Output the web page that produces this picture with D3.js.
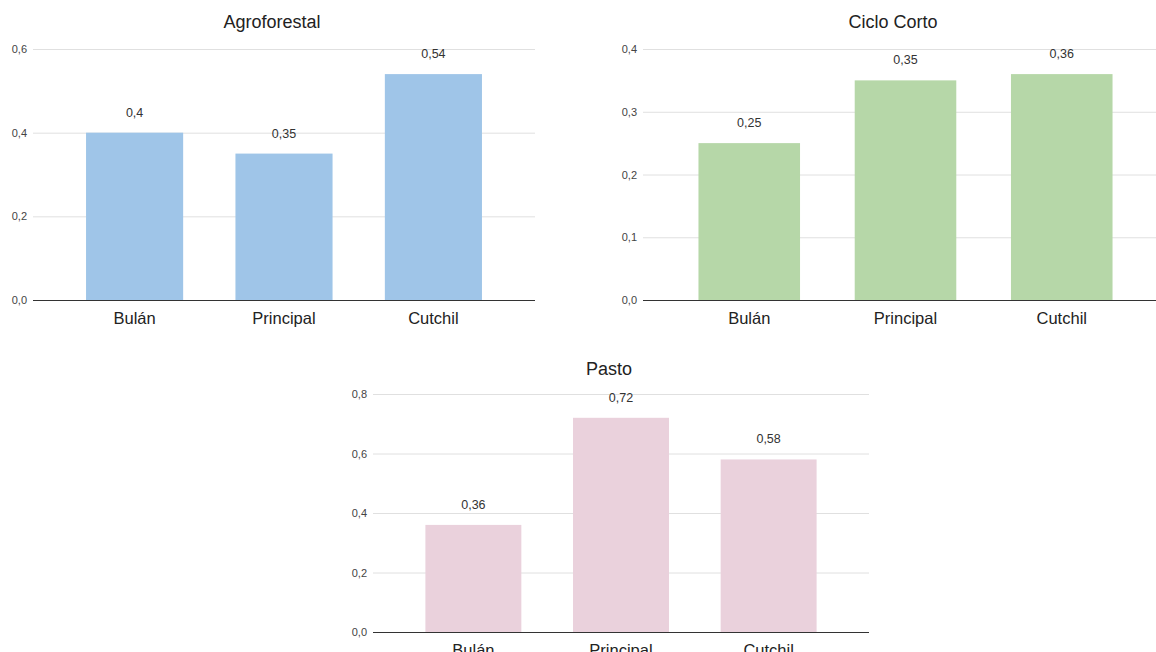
<!DOCTYPE html>
<html>
<head>
<meta charset="utf-8">
<script src="https://cdn.jsdelivr.net/npm/d3@7"></script>
<style>
  html, body { margin: 0; padding: 0; background: #fff; }
  svg { display: block; font-family: "Liberation Sans", Arial, sans-serif; }
</style>
</head>
<body>
<svg id="chart" width="1156" height="652"></svg>
<script>
// Sites shared by all three panels
const categories = ["Bulán", "Principal", "Cutchil"];

// Values per land-use type
const agroforestalValues = [0.40, 0.35, 0.54];
const cicloCortoValues = [0.25, 0.35, 0.36];
const pastoValues = [0.36, 0.72, 0.58];

// Y-axis ticks per panel
const agroforestalTicks = [0, 0.2, 0.4, 0.6];
const cicloCortoTicks = [0, 0.1, 0.2, 0.3, 0.4];
const pastoTicks = [0, 0.2, 0.4, 0.6, 0.8];

const panels = [
  { title: "Agroforestal", values: agroforestalValues, ticks: agroforestalTicks,
    color: "#9fc5e8", x0: 33, x1: 535, yTop: 49, yBase: 300, titleX: 272, titleY: 28 },
  { title: "Ciclo Corto", values: cicloCortoValues, ticks: cicloCortoTicks,
    color: "#b6d7a8", x0: 643, x1: 1168, yTop: 49, yBase: 300, titleX: 893, titleY: 28 },
  { title: "Pasto", values: pastoValues, ticks: pastoTicks,
    color: "#ead1dc", x0: 373, x1: 869, yTop: 394, yBase: 632, titleX: 609, titleY: 375 }
];

const svg = d3.select("#chart");
const fmt = v => d3.format("")(+v.toFixed(2)).replace(".", ",");
const tickFmt = v => v.toFixed(1).replace(".", ",");

panels.forEach(p => {
  const g = svg.append("g");

  const x = d3.scaleBand()
    .domain(categories)
    .range([p.x0, p.x1])
    .paddingInner(0.35)
    .paddingOuter(0.355);

  const y = d3.scaleLinear()
    .domain([0, d3.max(p.ticks)])
    .range([p.yBase, p.yTop]);

  // Title
  g.append("text")
    .attr("x", p.titleX)
    .attr("y", p.titleY)
    .attr("text-anchor", "middle")
    .attr("font-size", 18)
    .attr("fill", "#222")
    .text(p.title);

  // Gridlines and y labels
  const yAxis = d3.axisLeft(y)
    .tickValues(p.ticks)
    .tickSize(-(p.x1 - p.x0))
    .tickPadding(6)
    .tickFormat(tickFmt);

  const ya = g.append("g")
    .attr("transform", `translate(${p.x0},0)`)
    .call(yAxis);
  ya.select(".domain").remove();
  ya.selectAll(".tick line")
    .attr("stroke", "#e0e0e0")
    .attr("stroke-width", 1);
  ya.selectAll(".tick text")
    .attr("font-size", 11)
    .attr("fill", "#444")
    .attr("font-family", "'Liberation Sans', Arial, sans-serif");

  // Bars
  g.selectAll("rect.bar")
    .data(p.values)
    .join("rect")
    .attr("class", "bar")
    .attr("x", (d, i) => x(categories[i]))
    .attr("width", x.bandwidth())
    .attr("y", d => y(d))
    .attr("height", d => y(0) - y(d))
    .attr("fill", p.color);

  // Value labels
  g.selectAll("text.val")
    .data(p.values)
    .join("text")
    .attr("class", "val")
    .attr("x", (d, i) => x(categories[i]) + x.bandwidth() / 2)
    .attr("y", d => y(d) - 16)
    .attr("text-anchor", "middle")
    .attr("font-size", 12.5)
    .attr("fill", "#333")
    .text(d => fmt(d));

  // Baseline with category labels
  const xAxis = d3.axisBottom(x).tickSize(0).tickPadding(12);
  const xa = g.append("g")
    .attr("transform", `translate(0,${p.yBase})`)
    .call(xAxis);
  xa.select(".domain")
    .attr("d", `M${p.x0},0.5H${p.x1}`)
    .attr("stroke", "#333")
    .attr("stroke-width", 1);
  xa.selectAll(".tick text")
    .attr("font-size", 16.5)
    .attr("fill", "#222")
    .attr("font-family", "'Liberation Sans', Arial, sans-serif");
});
</script>
</body>
</html>
